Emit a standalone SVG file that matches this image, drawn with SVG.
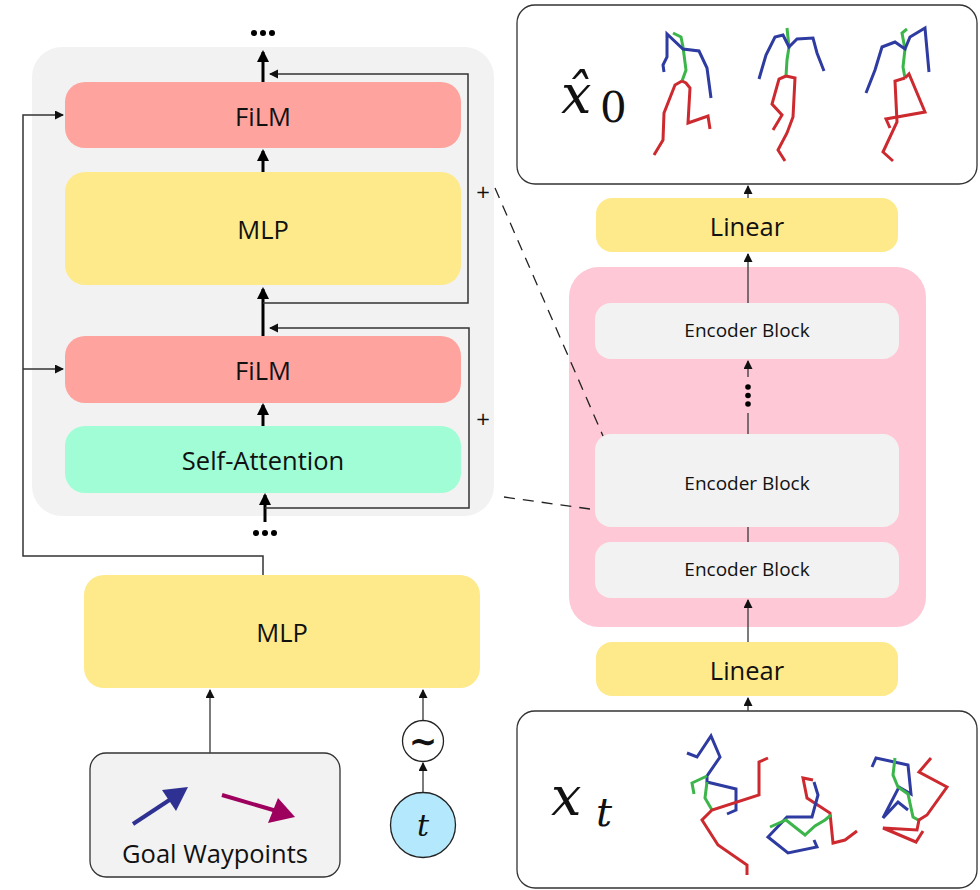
<svg xmlns="http://www.w3.org/2000/svg" width="980" height="890" viewBox="0 0 980 890">
<style>
  .lbl{font-family:"Open Sans","Noto Sans",sans-serif;fill:#111;text-anchor:middle;dominant-baseline:central}
  .big{font-size:25.5px}
  .enc{font-size:19px}
  .math{font-family:"DejaVu Serif","Liberation Serif",serif;font-style:italic;fill:#111}
  .rom{font-family:"DejaVu Serif","Liberation Serif",serif;fill:#111}
  .thick{stroke:#000;stroke-width:3;fill:none}
  .thin{stroke:#444;stroke-width:1.4;fill:none}
  .res{stroke:#333;stroke-width:1.5;fill:none}
  .dash{stroke:#222;stroke-width:1.3;fill:none;stroke-dasharray:11 8}
  .sk{fill:none;stroke-width:3;stroke-linejoin:miter;stroke-linecap:butt}
  .b{stroke:#2e3ba0}.g{stroke:#3cb54a}.r{stroke:#cc2a2f}
</style>
<defs>
  <marker id="ah" markerUnits="userSpaceOnUse" markerWidth="14" markerHeight="14" refX="10" refY="6" orient="auto">
    <path d="M0,0 L12,6 L0,12 z" fill="#000"/>
  </marker>
  <marker id="at" markerUnits="userSpaceOnUse" markerWidth="10" markerHeight="10" refX="8" refY="4.5" orient="auto">
    <path d="M0,0 L9,4.5 L0,9 z" fill="#111"/>
  </marker>
</defs>

<!-- left panel background -->
<g id="block-panel"><rect x="32" y="47" width="462" height="469" rx="30" fill="#f2f2f2"/></g>

<g id="film-top"><rect x="65" y="82" width="396" height="66" rx="20" fill="#ffa39e"/><text class="lbl big" x="263" y="116">FiLM</text></g>
<g id="mlp-top"><rect x="65" y="172" width="396" height="113" rx="20" fill="#feea8a"/><text class="lbl big" x="263" y="229">MLP</text></g>
<g id="film-bottom"><rect x="65" y="336" width="396" height="67" rx="20" fill="#ffa39e"/><text class="lbl big" x="263" y="370">FiLM</text></g>
<g id="self-attention"><rect x="65" y="426" width="396" height="67" rx="20" fill="#a0fdd5"/><text class="lbl big" x="263" y="460">Self-Attention</text></g>

<g id="dots-top" fill="#000"><circle cx="254" cy="33" r="3"/><circle cx="263" cy="33" r="3"/><circle cx="272" cy="33" r="3"/></g>
<g id="dots-bottom" fill="#000"><circle cx="256" cy="533" r="3"/><circle cx="265" cy="533" r="3"/><circle cx="274" cy="533" r="3"/></g>

<g id="mlp-cond"><rect x="84" y="575" width="396" height="113" rx="20" fill="#feea8a"/><text class="lbl big" x="282" y="632">MLP</text></g>

<g id="goal-waypoints">
  <rect x="90" y="753" width="250" height="124" rx="16" fill="#f2f2f2" stroke="#333" stroke-width="1.3"/>
  <line x1="133" y1="824" x2="174" y2="797" stroke="#2e3192" stroke-width="4"/>
  <polygon points="188,787 162,790 176,811" fill="#2e3192"/>
  <line x1="222" y1="795" x2="280" y2="812" stroke="#9e005d" stroke-width="4"/>
  <polygon points="295,817 278,798 268,823" fill="#9e005d"/>
  <text class="lbl big" x="215" y="853">Goal Waypoints</text>
</g>

<g id="sin-embed"><circle cx="423" cy="741" r="20.5" fill="#fff" stroke="#222" stroke-width="1.3"/><text x="423" y="741" font-family="DejaVu Sans,sans-serif" font-size="34" font-weight="bold" text-anchor="middle" dominant-baseline="central" fill="#111">∼</text></g>
<g id="t-node"><circle cx="423" cy="825" r="32.5" fill="#b4e8fc" stroke="#222" stroke-width="1.3"/><text class="math" x="423" y="836" font-size="30" text-anchor="middle">t</text></g>

<!-- right side -->
<g id="x0-box">
  <rect x="517" y="5" width="460" height="179" rx="18" fill="#fff" stroke="#333" stroke-width="1.3"/>
  <text class="math" x="561" y="113" font-size="54">x̂</text>
  <text class="rom" x="600" y="122" font-size="42">0</text>
  <g id="skel-x0-1">
    <polyline class="sk g" points="673,33 681,37 683,47 686,70 682,81"/>
    <polyline class="sk b" points="664,72 663,65 667,57 667,34 683,49 699,51 707,68 711,98"/>
    <polyline class="sk r" points="682,81 675,85 664,113 663,140 654,155"/>
    <polyline class="sk r" points="682,81 686,83 690,88 688,123 708,116 710,129"/>
  </g>
  <g id="skel-x0-2">
    <polyline class="sk g" points="787,28 789,47 787,60 786,76"/>
    <polyline class="sk b" points="759,79 766,55 775,37 783,35 789,47 797,39 813,38 817,53 824,71"/>
    <polyline class="sk r" points="786,76 779,79 772,104 782,115 773,130"/>
    <polyline class="sk r" points="786,76 795,78 793,117 787,133 778,150 785,161"/>
  </g>
  <g id="skel-x0-3">
    <polyline class="sk g" points="907,29 902,33 905,49 903,67 905,78"/>
    <polyline class="sk b" points="866,93 875,70 882,47 895,42 905,49 910,37 925,28 929,72"/>
    <polyline class="sk r" points="905,78 895,81 897,122 883,152 893,161"/>
    <polyline class="sk r" points="905,78 909,74 925,112 886,119 890,128"/>
  </g>
</g>

<g id="linear-top"><rect x="596" y="198" width="302" height="54" rx="16" fill="#feea8a"/><text class="lbl big" x="747" y="226">Linear</text></g>

<g id="encoder-stack"><rect x="569" y="267" width="357" height="360" rx="30" fill="#ffc8d6"/></g>
<g id="enc-top"><rect x="595" y="303" width="304" height="56" rx="16" fill="#f2f2f2"/><text class="lbl enc" x="747" y="330">Encoder Block</text></g>
<g id="enc-dots" fill="#000"><circle cx="748" cy="387" r="2.8"/><circle cx="748" cy="395.5" r="2.8"/><circle cx="748" cy="404" r="2.8"/></g>
<g id="enc-mid"><rect x="595" y="434" width="304" height="93" rx="16" fill="#f2f2f2"/><text class="lbl enc" x="747" y="483">Encoder Block</text></g>
<g id="enc-bottom"><rect x="595" y="542" width="304" height="56" rx="16" fill="#f2f2f2"/><text class="lbl enc" x="747" y="569">Encoder Block</text></g>

<g id="linear-bottom"><rect x="596" y="642" width="302" height="54" rx="16" fill="#feea8a"/><text class="lbl big" x="747" y="670">Linear</text></g>

<g id="xt-box">
  <rect x="517" y="711" width="460" height="177" rx="18" fill="#fff" stroke="#333" stroke-width="1.3"/>
  <text class="math" x="551" y="815" font-size="54">x</text>
  <text class="math" x="596" y="826" font-size="40">t</text>
  <g id="skel-xt-1">
    <polyline class="sk b" points="687,753 697,757 711,736 720,757 707,776 707,782 736,789 736,810 727,814"/>
    <polyline class="sk g" points="694,794 692,783 707,776"/>
    <polyline class="sk g" points="707,782 705,798 712,810"/>
    <polyline class="sk r" points="768,758 759,762 759,795 712,810 702,820 718,845 747,865 747,875"/>
  </g>
  <g id="skel-xt-2">
    <polyline class="sk r" points="813,780 803,778 807,798 830,813 833,843 845,840 857,831"/>
    <polyline class="sk b" points="814,782 818,795 812,817 787,817 768,837 788,853 817,847 814,840"/>
    <polyline class="sk g" points="770,827 786,820 805,835 815,826 825,820 831,815"/>
  </g>
  <g id="skel-xt-3">
    <polyline class="sk b" points="872,767 876,758 908,765 911,794 899,787 883,818 898,802 908,810"/>
    <polyline class="sk g" points="895,758 893,775 898,787 908,794 913,817 920,821"/>
    <polyline class="sk r" points="931,758 919,772 947,787 927,815 919,820 917,830 883,828 916,842 923,831"/>
  </g>
</g>

<g id="connectors">
  <line class="thick" x1="263" y1="82" x2="263" y2="52" marker-end="url(#ah)"/>
  <line class="thick" x1="263" y1="172" x2="263" y2="151" marker-end="url(#ah)"/>
  <line class="thick" x1="263" y1="336" x2="263" y2="289" marker-end="url(#ah)"/>
  <line class="thick" x1="263" y1="426" x2="263" y2="405" marker-end="url(#ah)"/>
  <line class="thick" x1="265" y1="522" x2="265" y2="495" marker-end="url(#ah)"/>
  <polyline class="res" points="263,303 468,303 468,74 270,74" marker-end="url(#at)"/>
  <polyline class="res" points="265,508 469,508 469,328 270,328" marker-end="url(#at)"/>
  <text x="483" y="191" font-family="DejaVu Sans,sans-serif" font-size="18" text-anchor="middle" dominant-baseline="central" fill="#111">+</text>
  <text x="483" y="418" font-family="DejaVu Sans,sans-serif" font-size="18" text-anchor="middle" dominant-baseline="central" fill="#111">+</text>
  <polyline class="res" points="263,575 263,556 23,556 23,115 63,115" marker-end="url(#at)"/>
  <line class="res" x1="23" y1="369" x2="63" y2="369" marker-end="url(#at)"/>
  <line class="thin" x1="210" y1="753" x2="210" y2="690" marker-end="url(#at)"/>
  <line class="thin" x1="423" y1="720" x2="423" y2="690" marker-end="url(#at)"/>
  <line class="thin" x1="423" y1="792" x2="423" y2="763" marker-end="url(#at)"/>
  <line class="thin" x1="748" y1="711" x2="748" y2="698" marker-end="url(#at)"/>
  <line class="thin" x1="748" y1="642" x2="748" y2="600" marker-end="url(#at)"/>
  <line class="thin" x1="748" y1="542" x2="748" y2="527"/>
  <line class="thin" x1="748" y1="434" x2="748" y2="413"/>
  <line class="thin" x1="748" y1="377" x2="748" y2="361" marker-end="url(#at)"/>
  <line class="thin" x1="748" y1="303" x2="748" y2="254" marker-end="url(#at)"/>
  <line class="thin" x1="748" y1="198" x2="748" y2="186" marker-end="url(#at)"/>
  <line class="dash" x1="495" y1="188" x2="603" y2="436"/>
  <line class="dash" x1="504" y1="497" x2="590" y2="509"/>
</g>
</svg>
